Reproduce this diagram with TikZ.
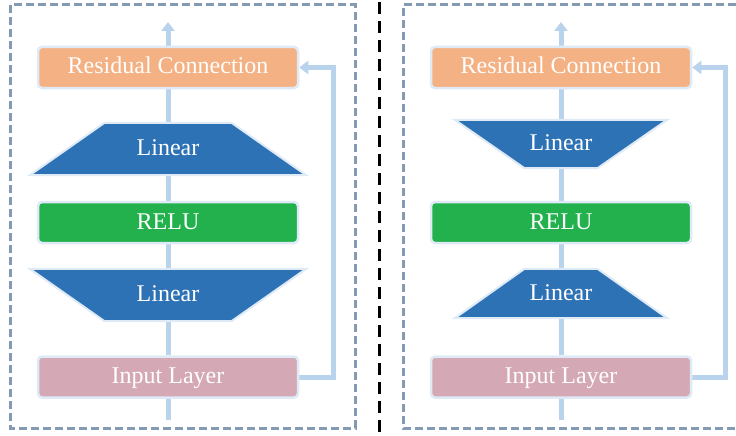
\documentclass[tikz,border=0pt]{standalone}
\usepackage{fontspec}
\setmainfont{Liberation Serif}
\usetikzlibrary{arrows.meta,calc}
\definecolor{resc}{HTML}{F4B183}
\definecolor{linc}{HTML}{2E72B6}
\definecolor{reluc}{HTML}{22B14C}
\definecolor{inpc}{HTML}{D5A8B5}
\definecolor{connc}{HTML}{B9D3EC}
\definecolor{haloc}{HTML}{DEEBF7}
\definecolor{framec}{HTML}{8499B2}
\pgfdeclarelayer{bgfill}
\pgfdeclarelayer{bg}
\pgfdeclarelayer{mid}
\pgfsetlayers{bgfill,bg,mid,main}
\begin{document}
\begin{tikzpicture}[x=1pt,y=-1pt,
  lbl/.style={text=white, font=\fontsize{24}{27}\selectfont, text height=17pt, text depth=4pt, inner sep=0pt},
  box/.style={lbl, rectangle, rounded corners=4pt, minimum width=260pt, minimum height=41pt, draw=haloc, line width=2.5pt},
  lintext/.style={lbl, rectangle},
  trap/.style={fill=linc, draw=haloc, line width=2pt, line join=miter},
  conn/.style={draw=connc, line width=5pt},
  connarrow/.style={conn, -{Triangle[width=13pt,length=9pt]}},
  frame/.style={draw=framec, line width=3pt, dash pattern=on 8pt off 4pt},
  sep/.style={draw=black, line width=3pt, dash pattern=on 12pt off 7pt}]
\useasboundingbox (0,0) rectangle (736,436);
\begin{pgfonlayer}{bgfill}
\fill[white] (0,0) rectangle (736,436);
\end{pgfonlayer}

% frames
\draw[frame] (10,5) rectangle (355,428);
\draw[frame] (736,5) -- (403,5) -- (403,428) -- (736,428);
\draw[sep] (379,2) -- (379,436);

% ---------- left column ----------
\node[box, fill=resc] (res1) at (168,67.5) {Residual Connection};
\node[lintext, minimum width=276pt, minimum height=52pt] (lin1) at (168,149) {Linear};
\node[box, fill=reluc] (relu1) at (168,222.5) {RELU};
\node[lintext, minimum width=276pt, minimum height=52pt] (lin2) at (168,295) {Linear};
\node[box, fill=inpc] (inp1) at (168,377) {Input Layer};
\coordinate (top1) at (168,22);
\coordinate (bot1) at (168,420);

\begin{pgfonlayer}{mid}
\draw[trap] (lin1.south west) -- (lin1.south east) -- ($(lin1.north)+(63.5,0)$) -- ($(lin1.north)+(-63.5,0)$) -- cycle;
\draw[trap] (lin2.north west) -- (lin2.north east) -- ($(lin2.south)+(63.5,0)$) -- ($(lin2.south)+(-63.5,0)$) -- cycle;
\end{pgfonlayer}

\begin{pgfonlayer}{bg}
\draw[conn] (bot1) -- (inp1);
\draw[conn] (inp1) -- (lin2);
\draw[conn] (lin2) -- (relu1);
\draw[conn] (relu1) -- (lin1);
\draw[conn] (lin1) -- (res1);
\draw[connarrow] (res1) -- (top1);
\draw[connarrow] (inp1.east) -- ++(34,0) |- (res1.east);
\end{pgfonlayer}

% ---------- right column ----------
\node[box, fill=resc] (res2) at (561,67.5) {Residual Connection};
\node[lintext, minimum width=212pt, minimum height=48pt] (lin3) at (561,144) {Linear};
\node[box, fill=reluc] (relu2) at (561,222.5) {RELU};
\node[lintext, minimum width=212pt, minimum height=49pt] (lin4) at (561,293.5) {Linear};
\node[box, fill=inpc] (inp2) at (561,377) {Input Layer};
\coordinate (top2) at (561,22);
\coordinate (bot2) at (561,420);

\begin{pgfonlayer}{mid}
\draw[trap] (lin3.north west) -- (lin3.north east) -- ($(lin3.south)+(36.5,0)$) -- ($(lin3.south)+(-36.5,0)$) -- cycle;
\draw[trap] (lin4.south west) -- (lin4.south east) -- ($(lin4.north)+(36.5,0)$) -- ($(lin4.north)+(-36.5,0)$) -- cycle;
\end{pgfonlayer}

\begin{pgfonlayer}{bg}
\draw[conn] (bot2) -- (inp2);
\draw[conn] (inp2) -- (lin4);
\draw[conn] (lin4) -- (relu2);
\draw[conn] (relu2) -- (lin3);
\draw[conn] (lin3) -- (res2);
\draw[connarrow] (res2) -- (top2);
\draw[connarrow] (inp2.east) -- ++(33,0) |- (res2.east);
\end{pgfonlayer}
\end{tikzpicture}
\end{document}
